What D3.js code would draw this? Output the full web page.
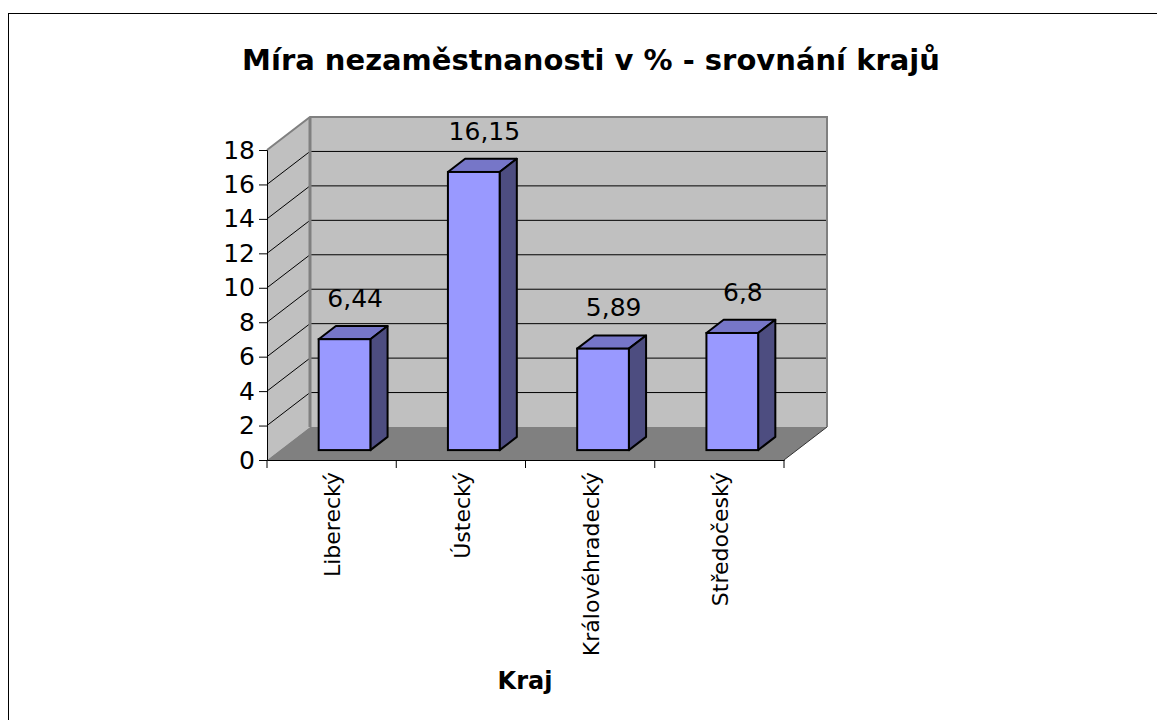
<!DOCTYPE html>
<html>
<head>
<meta charset="utf-8">
<script src="https://cdn.jsdelivr.net/npm/d3@7"></script>
<style>
  body { margin: 0; background: #fff; }
  text { font-family: "DejaVu Sans", Verdana, sans-serif; fill: #000; }
</style>
</head>
<body>
<div class="chart"></div>
<script>
let width = 1157, height = 720;

// data
let kraje = ["Liberecký", "Ústecký", "Královéhradecký", "Středočeský"];
let mira = [6.44, 16.15, 5.89, 6.8];
let labels = ["6,44", "16,15", "5,89", "6,8"];
let yTicks = [0, 2, 4, 6, 8, 10, 12, 14, 16, 18];

// plot box (front plane) + depth offset
let plotLeft = 267, plotRight = 784, plotTop = 150, plotBottom = 460;
let depthX = 43, depthY = -33;
let f0 = 0.3, f1 = 0.7; // bar front/back position in depth

let svg = d3.select(".chart").append("svg")
    .attr("width", width)
    .attr("height", height);

svg.append("rect")
    .attr("x", 8.5).attr("y", 13.5)
    .attr("width", 1170).attr("height", 730)
    .attr("fill", "none").attr("stroke", "#000");

let y = d3.scaleLinear().domain([0, 18]).range([plotBottom, plotTop]);
let x = d3.scaleBand().domain(kraje).range([plotLeft, plotRight]).paddingInner(0.6).paddingOuter(0.3);
let xCat = d3.scaleBand().domain(kraje).range([plotLeft, plotRight]);

// walls
let wall = "#c0c0c0", edge = "#808080";
svg.append("polygon")
    .attr("points", [[plotLeft, y(18)], [plotLeft + depthX, y(18) + depthY], [plotLeft + depthX, plotBottom + depthY], [plotLeft, plotBottom]].join(" "))
    .attr("fill", wall);
svg.append("rect")
    .attr("x", plotLeft + depthX).attr("y", y(18) + depthY)
    .attr("width", plotRight - plotLeft).attr("height", plotBottom - plotTop)
    .attr("fill", wall);

// floor
svg.append("polygon")
    .attr("points", [[plotLeft, plotBottom], [plotLeft + depthX, plotBottom + depthY], [plotRight + depthX, plotBottom + depthY], [plotRight, plotBottom]].join(" "))
    .attr("fill", edge);
svg.append("line")
    .attr("x1", plotRight).attr("y1", plotBottom)
    .attr("x2", plotRight + depthX).attr("y2", plotBottom + depthY)
    .attr("stroke", "#333").attr("stroke-width", 1);

// gridlines
let grid = yTicks.filter(d => d > 0 && d < 18);
svg.selectAll(".gl").data(grid).enter().append("line")
    .attr("x1", plotLeft).attr("y1", d => y(d))
    .attr("x2", plotLeft + depthX).attr("y2", d => y(d) + depthY)
    .attr("stroke", "#000").attr("stroke-width", 1);
svg.selectAll(".gb").data(grid).enter().append("line")
    .attr("x1", plotLeft + depthX).attr("y1", d => y(d) + depthY)
    .attr("x2", plotRight + depthX).attr("y2", d => y(d) + depthY)
    .attr("stroke", "#000").attr("stroke-width", 1);

// wall edges
svg.append("polyline")
    .attr("points", [[plotLeft, y(18)], [plotLeft + depthX, y(18) + depthY], [plotRight + depthX, y(18) + depthY], [plotRight + depthX, plotBottom + depthY]].join(" "))
    .attr("fill", "none").attr("stroke", edge).attr("stroke-width", 2);
svg.append("line")
    .attr("x1", plotLeft + depthX).attr("y1", y(18) + depthY)
    .attr("x2", plotLeft + depthX).attr("y2", plotBottom + depthY)
    .attr("stroke", edge).attr("stroke-width", 3);

// bars
let bars = svg.selectAll(".bar").data(kraje).enter().append("g");
bars.each(function(k, i) {
    let g = d3.select(this);
    let x0 = x(k) + f0 * depthX, x1 = x0 + x.bandwidth();
    let yb = y(0) + f0 * depthY, yt = y(mira[i]) + f0 * depthY;
    let dx = (f1 - f0) * depthX, dy = (f1 - f0) * depthY;
    g.append("polygon")
        .attr("points", [[x0, yt], [x0 + dx, yt + dy], [x1 + dx, yt + dy], [x1, yt]].join(" "))
        .attr("fill", "#7676c8").attr("stroke", "#000").attr("stroke-width", 2).attr("stroke-linejoin", "round");
    g.append("polygon")
        .attr("points", [[x1, yt], [x1 + dx, yt + dy], [x1 + dx, yb + dy], [x1, yb]].join(" "))
        .attr("fill", "#4d4d80").attr("stroke", "#000").attr("stroke-width", 2).attr("stroke-linejoin", "round");
    g.append("rect")
        .attr("x", x0).attr("y", yt)
        .attr("width", x1 - x0).attr("height", yb - yt)
        .attr("fill", "#9999ff").attr("stroke", "#000").attr("stroke-width", 2);
    g.append("text")
        .attr("x", (x0 + x1) / 2 + dx / 2 + 2)
        .attr("y", yt + dy - 19)
        .attr("text-anchor", "middle")
        .style("font-size", "25px")
        .text(labels[i]);
});

// axes
let yAxis = d3.axisLeft(y).tickValues(yTicks).tickSize(8).tickPadding(4);
svg.append("g").attr("transform", `translate(${plotLeft},0)`).call(yAxis)
    .call(g => g.select(".domain").attr("stroke", "#000"))
    .call(g => g.selectAll("text").style("font-size", "25px").attr("fill", "#000").style("font-family", "DejaVu Sans"));

let xAxis = d3.axisBottom(xCat).tickSize(0).tickFormat("");
svg.append("g").attr("transform", `translate(0,${plotBottom})`).call(xAxis)
    .call(g => g.select(".domain").attr("stroke", "#000"));
svg.selectAll(".xt").data(d3.range(kraje.length + 1)).enter().append("line")
    .attr("x1", i => plotLeft + i * xCat.step()).attr("x2", i => plotLeft + i * xCat.step())
    .attr("y1", plotBottom).attr("y2", plotBottom + 8)
    .attr("stroke", "#000");

svg.selectAll(".cat").data(kraje).enter().append("text")
    .attr("transform", d => `translate(${xCat(d) + xCat.bandwidth() / 2 + 1},472) rotate(-90)`)
    .attr("text-anchor", "end")
    .attr("dy", "0.35em")
    .style("font-size", "22px")
    .text(d => d);

// titles
svg.append("text")
    .attr("x", 591).attr("y", 70)
    .attr("text-anchor", "middle")
    .style("font-size", "29px").style("font-weight", "bold")
    .text("Míra nezaměstnanosti v % - srovnání krajů");
svg.append("text")
    .attr("x", 525).attr("y", 689)
    .attr("text-anchor", "middle")
    .style("font-size", "24px").style("font-weight", "bold")
    .text("Kraj");
</script>
</body>
</html>
